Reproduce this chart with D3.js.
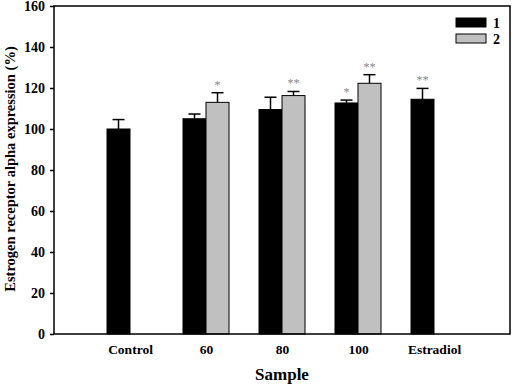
<!DOCTYPE html>
<html>
<head>
<meta charset="utf-8">
<script src="https://cdn.jsdelivr.net/npm/d3@7"></script>
<style>
  body { margin: 0; background: #fff; }
  text { font-family: "Liberation Serif", "Times New Roman", serif; font-weight: bold; }
</style>
</head>
<body>
<svg id="chart"></svg>
<script>
// data
var categories = ["Control", "60", "80", "100", "Estradiol"];
var series = ["1", "2"];
var values1 = [100, 105, 109.5, 112.7, 114.5];
var errors1 = [4.6, 2.3, 6, 1.4, 5.3];
var values2 = [null, 113, 116.3, 122.3, null];
var errors2 = [null, 4.7, 2, 4.2, null];
var stars1 = ["", "", "", "*", "**"];
var stars2 = ["", "*", "**", "**", ""];
var yTicks = [0, 20, 40, 60, 80, 100, 120, 140, 160];
var colors = ["#000000", "#c0c0c0"];

var svgWidth = 512;
var svgHeight = 385;
var margin = {top: 6, right: 2, bottom: 51, left: 54};
var w = svgWidth - margin.left - margin.right;
var h = svgHeight - margin.top - margin.bottom;

var svg = d3.select('#chart')
    .attr('width', svgWidth)
    .attr('height', svgHeight);

var g = svg.append('g')
    .attr('transform', 'translate(' + margin.left + ',' + margin.top + ')');

// group centres are evenly spaced, with one empty slot at each end
var x = d3.scalePoint()
    .domain(categories)
    .range([0, w])
    .padding(1);

var y = d3.scaleLinear()
    .domain([0, 160])
    .range([h, 0]);

var barW = 23;

// rows for the bars
var rows = [];
categories.forEach(function(c, i){
    rows.push({cat: c, s: 0, v: values1[i], e: errors1[i], star: stars1[i]});
    if (values2[i] != null) {
        rows.push({cat: c, s: 1, v: values2[i], e: errors2[i], star: stars2[i]});
    }
});

function barX(d){
    return d.s === 0 ? x(d.cat) - barW : x(d.cat);
}

// error bars (upper only), drawn behind bars
var err = g.selectAll('.err')
    .data(rows)
    .enter()
    .append('g')
    .attr('class', 'err');

err.append('line')
    .attr('x1', function(d){ return barX(d) + barW / 2; })
    .attr('x2', function(d){ return barX(d) + barW / 2; })
    .attr('y1', function(d){ return y(d.v); })
    .attr('y2', function(d){ return y(d.v + d.e); })
    .attr('stroke', '#000')
    .attr('stroke-width', 1.5);

err.append('line')
    .attr('x1', function(d){ return barX(d) + barW / 2 - 6; })
    .attr('x2', function(d){ return barX(d) + barW / 2 + 6; })
    .attr('y1', function(d){ return y(d.v + d.e); })
    .attr('y2', function(d){ return y(d.v + d.e); })
    .attr('stroke', '#000')
    .attr('stroke-width', 1.5);

g.selectAll('.bar')
    .data(rows)
    .enter()
    .append('rect')
    .attr('class', 'bar')
    .attr('x', barX)
    .attr('y', function(d){ return y(d.v); })
    .attr('width', barW)
    .attr('height', function(d){ return h - y(d.v); })
    .attr('fill', function(d){ return colors[d.s]; })
    .attr('stroke', '#000')
    .attr('stroke-width', 1);

// significance stars
g.selectAll('.star')
    .data(rows.filter(function(d){ return d.star; }))
    .enter()
    .append('text')
    .attr('class', 'star')
    .attr('x', function(d){ return barX(d) + barW / 2; })
    .attr('y', function(d){ return y(d.v + d.e) - 4; })
    .attr('text-anchor', 'middle')
    .attr('font-size', 12)
    .attr('fill', '#888')
    .style('font-weight', 'normal')
    .text(function(d){ return d.star; });

// frame
g.append('rect')
    .attr('x', 0).attr('y', 0)
    .attr('width', w).attr('height', h)
    .attr('fill', 'none')
    .attr('stroke', '#000')
    .attr('stroke-width', 1.5);

// y axis
var yAxis = g.append('g')
    .call(d3.axisLeft(y).tickValues(yTicks).tickSize(4).tickPadding(5));
yAxis.select('.domain').remove();
yAxis.selectAll('line').attr('stroke-width', 1.5);
yAxis.selectAll('text')
    .attr('font-size', 14)
    .attr('fill', '#000')
    .style('font-family', '"Liberation Serif", serif')
    .style('font-weight', 'bold');

// x axis labels
var xAxis = g.append('g')
    .attr('transform', 'translate(0,' + h + ')')
    .call(d3.axisBottom(x).tickSize(0).tickPadding(10));
xAxis.select('.domain').remove();
xAxis.selectAll('text')
    .attr('font-size', 13.5)
    .attr('fill', '#000')
    .style('font-family', '"Liberation Serif", serif')
    .style('font-weight', 'bold');

// axis titles
svg.append('text')
    .attr('x', margin.left + w / 2)
    .attr('y', 380)
    .attr('text-anchor', 'middle')
    .attr('font-size', 17)
    .text('Sample');

svg.append('text')
    .attr('transform', 'translate(15,169) rotate(-90)')
    .attr('text-anchor', 'middle')
    .attr('font-size', 14.5)
    .text('Estrogen receptor alpha expression (%)');

// legend
var legend = svg.selectAll('.legend')
    .data(series)
    .enter()
    .append('g')
    .attr('class', 'legend')
    .attr('transform', function(d, i){ return 'translate(456,' + (18 + i * 16) + ')'; });

legend.append('rect')
    .attr('width', 30)
    .attr('height', 9)
    .attr('fill', function(d, i){ return colors[i]; })
    .attr('stroke', '#000')
    .attr('stroke-width', 1);

legend.append('text')
    .attr('x', 37)
    .attr('y', 10)
    .attr('font-size', 14)
    .text(function(d){ return d; });
</script>
</body>
</html>
